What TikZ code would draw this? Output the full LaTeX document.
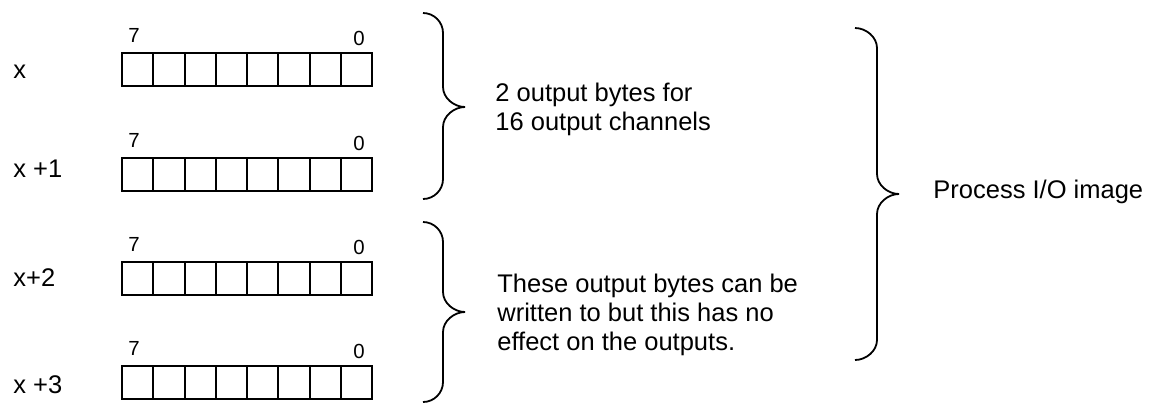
\documentclass[tikz,border=0pt]{standalone}
\usepackage{fontspec}
\setmainfont{Liberation Sans}

\begin{document}
\begin{tikzpicture}[x=0.5pt,y=-0.5pt,
  txt/.style={font=\fontsize{12.75}{14.4}\selectfont, inner sep=0pt},
  bitnum/.style={font=\fontsize{10.2}{12}\selectfont, inner sep=0pt},
  cell/.style={line width=1pt},
  curly/.style={line width=0.9pt}]
\useasboundingbox (0,0) rectangle (1150,404);

% byte rows
\foreach \n/\top/\base/\lab in {0/53/78/x, 1/158/177/x +1, 2/262/286/x+2, 3/366/393/x +3}{
  \node[txt, anchor=base west] (addr\n) at (13,\base) {\lab};
  \foreach \i in {0,...,7}
    \draw[cell] (122+31.25*\i,\top) rectangle ++(31.25,33);
  \node[bitnum, anchor=base] (msb\n) at (134,\top-11) {7};
  \node[bitnum, anchor=base] (lsb\n) at (359,\top-8) {0};
}

% braces
\draw[curly] (423,13) .. controls (434,13) and (443,22) .. (443,33)
  -- (443,87) .. controls (443,98) and (454,107) .. (465,107)
  .. controls (454,107) and (443,116) .. (443,127)
  -- (443,179) .. controls (443,190) and (434,199) .. (423,199);
\draw[curly] (423,222) .. controls (434,222) and (443,231) .. (443,242)
  -- (443,292) .. controls (443,303) and (454,312) .. (465,312)
  .. controls (454,312) and (443,321) .. (443,332)
  -- (443,382) .. controls (443,393) and (434,402) .. (423,402);
\draw[curly] (855,28) .. controls (866,28) and (877,37) .. (877,48)
  -- (877,174) .. controls (877,185) and (888,194) .. (899,194)
  .. controls (888,194) and (877,203) .. (877,214)
  -- (877,340) .. controls (877,351) and (866,360) .. (855,360);

% texts
\node[txt, anchor=base west, align=left] (outtxt) at (495,130) {2 output bytes for\\16 output channels};
\node[txt, anchor=base west, align=left] (notetxt) at (497,350) {These output bytes can be\\written to but this has no\\effect on the outputs.};
\node[txt, anchor=base west] (piotxt) at (933,198) {Process I/O image};

\end{tikzpicture}
\end{document}
